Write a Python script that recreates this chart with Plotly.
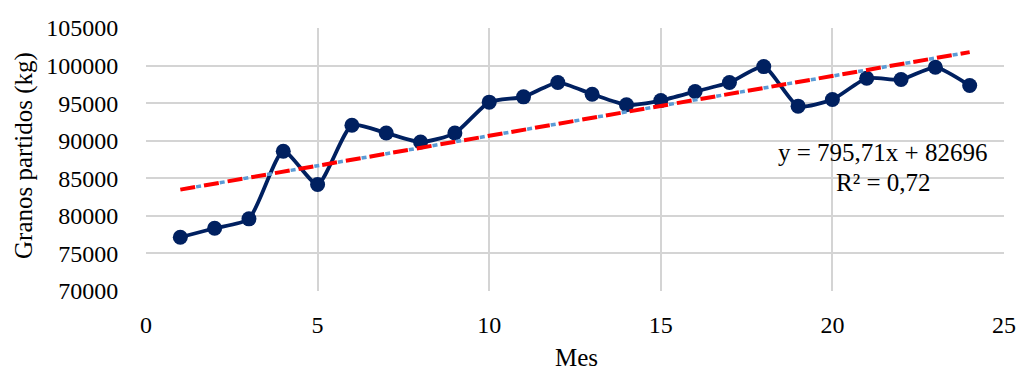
import plotly.graph_objects as go

# Monthly broken-grain weight (kg)
meses = list(range(1, 25))
granos_partidos = [77150, 78350, 79600, 88600, 84180, 92050, 91020, 89820,
                   91020, 95130, 95840, 97740, 96190, 94780, 95350, 96540,
                   97740, 99860, 94600, 95480, 98310, 98140, 99770, 97340]

# Linear trend as reported: y = 795,71x + 82696
pendiente = 795.71
intercepto = 82696
r2 = 0.72
tendencia_x = [meses[0], meses[-1]]
tendencia_y = [pendiente * x + intercepto for x in tendencia_x]

x_ticks = [0, 5, 10, 15, 20, 25]
y_ticks = list(range(70000, 105001, 5000))

FONT = "Liberation Serif"
NAVY = "#002060"
GRID = "#d4d4d4"

W, H = 1018, 370
L, R, T, B = 146, 14, 28, 79


def px_to_paper(px, py):
    return (px - L) / (W - L - R), 1 - (py - T) / (H - T - B)


fig = go.Figure()

# data series, smoothed
fig.add_trace(go.Scatter(
    x=meses, y=granos_partidos, mode="lines+markers",
    line=dict(color=NAVY, width=3.8, shape="spline", smoothing=0.6),
    marker=dict(color=NAVY, size=15),
    showlegend=False,
))

# trendline: blue dash-dot underneath, red dashes on top
fig.add_trace(go.Scatter(
    x=tendencia_x, y=tendencia_y, mode="lines",
    line=dict(color="#5b9bd5", width=3.5, dash="0px,16px,5px,3px"),
    showlegend=False, hoverinfo="skip",
))
fig.add_trace(go.Scatter(
    x=tendencia_x, y=tendencia_y, mode="lines",
    line=dict(color="#ff0000", width=4, dash="15px,9px"),
    showlegend=False, hoverinfo="skip",
))

ecuacion = f"y = {pendiente:.2f}x + {intercepto}".replace(".", ",")
r2_texto = f"R² = {r2:.2f}".replace(".", ",")

textos = [
    (ecuacion, 989, 152, "right", 0),
    (r2_texto, 883, 182, "center", 0),
    ("Mes", 576, 357, "center", 0),
    ("Granos partidos (kg)", 24, 156, "center", -90),
]
for texto, px, py, anchor, angle in textos:
    ax, ay = px_to_paper(px, py)
    fig.add_annotation(
        x=ax, y=ay, xref="paper", yref="paper", text=texto,
        showarrow=False, xanchor=anchor, yanchor="middle", textangle=angle,
        font=dict(family=FONT, size=25, color="#000000"),
    )

fig.update_layout(
    width=W, height=H,
    margin=dict(l=L, r=R, t=T, b=B, autoexpand=False),
    paper_bgcolor="white", plot_bgcolor="white",
    font=dict(family=FONT, size=24, color="#000000"),
)
fig.update_xaxes(
    range=[0, 25], tickvals=x_ticks, ticktext=[str(v) for v in x_ticks],
    showgrid=True, gridcolor=GRID, gridwidth=1.5,
    zeroline=False, showline=False, automargin=False,
    ticks="outside", ticklen=12, tickcolor="rgba(0,0,0,0)",
    tickfont=dict(family=FONT, size=24, color="#000000"),
)
fig.update_yaxes(
    range=[70000, 105000], tickvals=y_ticks, ticktext=[str(v) for v in y_ticks],
    showgrid=True, gridcolor=GRID, gridwidth=1.5,
    zeroline=False, showline=False, automargin=False,
    ticks="outside", ticklen=22, tickcolor="rgba(0,0,0,0)",
    tickfont=dict(family=FONT, size=24, color="#000000"),
)

fig.write_html("out.html")
